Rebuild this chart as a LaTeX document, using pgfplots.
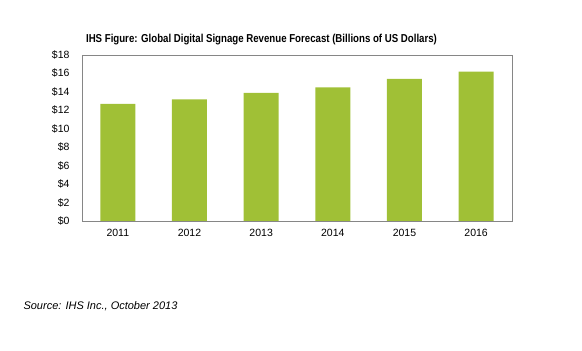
\documentclass[border=0pt]{standalone}
\usepackage{pgfplots}
\pgfplotsset{compat=1.18}
\usepackage{fontspec}
\setmainfont{Liberation Sans}
\definecolor{bargreen}{RGB}{160,192,54}
\definecolor{framegray}{RGB}{134,134,134}
\begin{document}
\begin{tikzpicture}[x=1pt,y=1pt]
\useasboundingbox (0,0) rectangle (582,351);
\begin{axis}[
  at={(82pt,130pt)}, anchor=south west,
  scale only axis, width=430pt, height=166pt,
  xmin=-0.5, xmax=5.5, ymin=0, ymax=18,
  ybar, bar width=35pt,
  xtick={0,1,2,3,4,5},
  xticklabels={2011,2012,2013,2014,2015,2016},
  ytick={0,2,...,18},
  /pgf/number format/assume math mode=true,
  yticklabel={\$\pgfmathprintnumber{\tick}},
  major tick length=0pt,
  axis line style={framegray, line width=0.9pt},
  tick label style={font=\fontsize{10.5}{12}\selectfont, text=black},
  yticklabel style={xshift=-9pt},
  xticklabel style={yshift=-5pt},
]
\addplot[fill=bargreen, draw=none] coordinates {(0,12.7) (1,13.2) (2,13.9) (3,14.5) (4,15.4) (5,16.2)};
\end{axis}
\node[font=\fontsize{11.5}{13}\selectfont\bfseries] at (261.5,311) {\scalebox{0.84}[1]{IHS Figure: Global Digital Signage Revenue Forecast (Billions of US Dollars)}};
\node[anchor=west, font=\fontsize{11}{13}\selectfont\itshape] at (20,45) {Source: IHS Inc., October 2013};
\end{tikzpicture}
\end{document}
